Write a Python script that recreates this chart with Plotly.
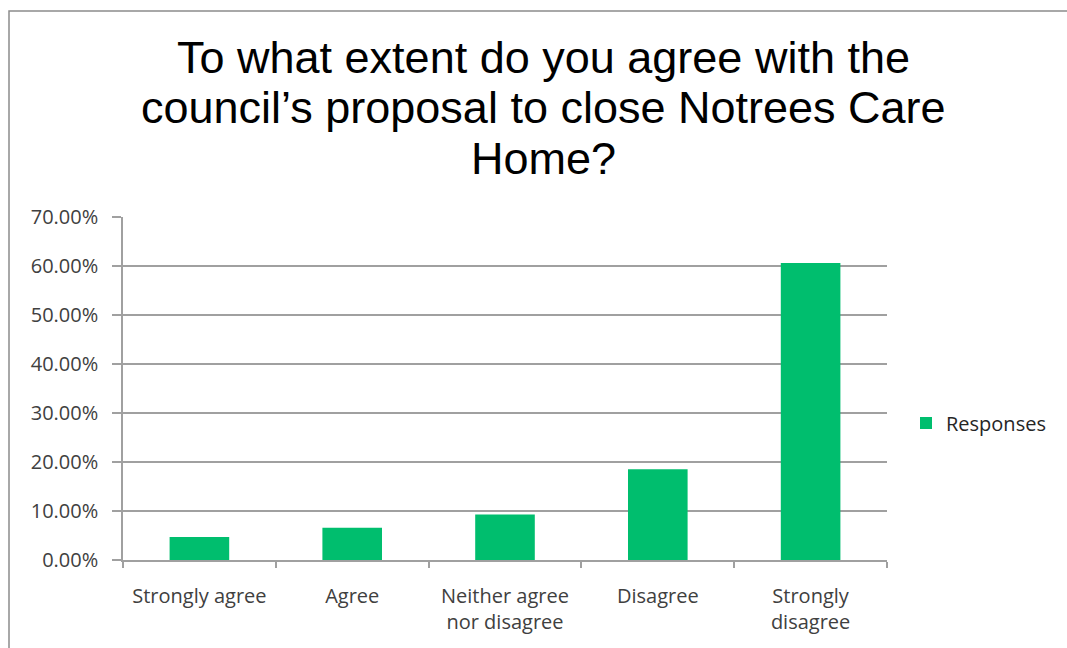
import plotly.graph_objects as go

categories = ["Strongly agree", "Agree", "Neither agree<br>nor disagree", "Disagree", "Strongly<br>disagree"]
responses = [0.047, 0.066, 0.093, 0.185, 0.606]
series_name = "Responses"
y_ticks = [0, 0.1, 0.2, 0.3, 0.4, 0.5, 0.6, 0.7]
y_ticktext = ["0.00%", "10.00%", "20.00%", "30.00%", "40.00%", "50.00%", "60.00%", "70.00%"]
title_lines = ["To what extent do you agree with the",
               "council\u2019s proposal to close Notrees Care",
               "Home?"]

W, H = 1067, 648
L, R, T, B = 123, 887, 217, 560
pw, ph = R - L, B - T
LABEL_FONT = "Open Sans, Lato, Carlito, Calibri"

fig = go.Figure()
fig.add_trace(go.Bar(
    x=categories, y=responses, name=series_name,
    marker=dict(color="#00BE6E", line=dict(width=0)),
    showlegend=True,
))

fig.update_layout(
    width=W, height=H, autosize=False,
    margin=dict(l=L, r=W - R, t=T, b=H - B, pad=0),
    paper_bgcolor="white", plot_bgcolor="white",
    bargap=0.61,
    font=dict(family=LABEL_FONT, size=20, color="#404040"),
    showlegend=True,
    legend=dict(x=(906 - L) / pw, xanchor="left", y=(B - 423) / ph, yanchor="middle",
                font=dict(family=LABEL_FONT, size=20, color="#262626"),
                bgcolor="rgba(0,0,0,0)"),
    xaxis=dict(showline=True, linecolor="#A0A0A0", linewidth=1.5,
               ticks="outside", tickson="boundaries", ticklen=6, tickcolor="#A0A0A0", tickwidth=1.5,
               ticklabelstandoff=17,
               tickfont=dict(family=LABEL_FONT, size=20, color="#404040"),
               showgrid=False, fixedrange=True),
    yaxis=dict(range=[0, 0.7], tickvals=y_ticks, ticktext=y_ticktext,
               showline=True, linecolor="#A0A0A0", linewidth=1.5,
               ticks="outside", ticklen=9, tickcolor="#A0A0A0", tickwidth=1.5,
               ticklabelstandoff=10,
               showgrid=True, gridcolor="#A0A0A0", gridwidth=1.5, zeroline=False,
               tickfont=dict(family=LABEL_FONT, size=20, color="#404040"),
               fixedrange=True),
)

for i, line in enumerate(title_lines):
    fig.add_annotation(text=line, xref="paper", yref="paper",
                       x=(543 - L) / pw, y=(B - (58 + 50 * i)) / ph,
                       xanchor="center", yanchor="middle", showarrow=False,
                       font=dict(family="Liberation Sans, Arial", size=45, color="#000000"))

fig.add_shape(type="rect", xref="paper", yref="paper",
              x0=(9 - L) / pw, x1=(1075 - L) / pw,
              y0=(B - 660) / ph, y1=(B - 11) / ph,
              line=dict(color="#8C8C8C", width=1.5), fillcolor="rgba(0,0,0,0)", layer="below")

fig.write_html("out.html")
